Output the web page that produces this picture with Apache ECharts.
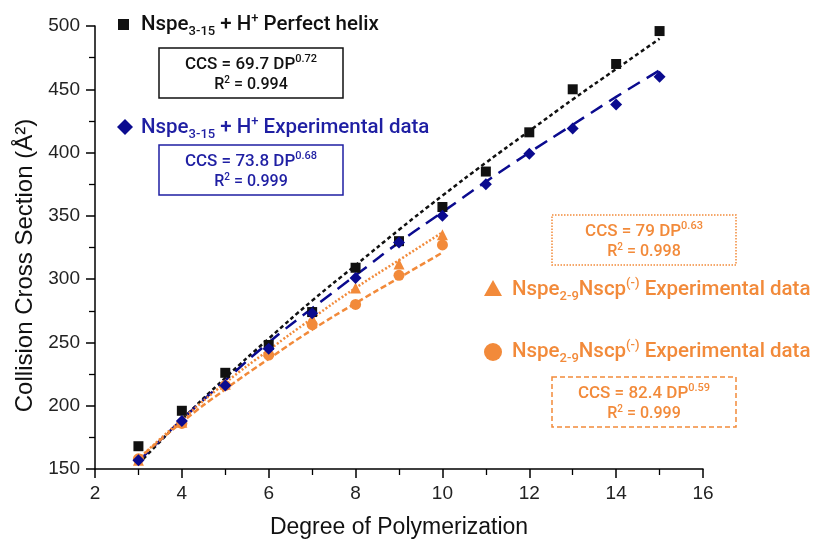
<!DOCTYPE html>
<html>
<head>
<meta charset="utf-8">
<script src="https://cdn.jsdelivr.net/npm/echarts@6/dist/echarts.min.js"></script>
<style>
html, body { margin: 0; padding: 0; background: #fff; }
#main { width: 816px; height: 542px; }
</style>
</head>
<body>
<div id="main"></div>
<script>
// degree of polymerization
const dpHelix = [3, 4, 5, 6, 7, 8, 9, 10, 11, 12, 13, 14, 15];
const dpNscp = [3, 4, 5, 6, 7, 8, 9, 10];
// measured / modelled CCS values
const ccsHelix = [168, 196, 226, 248, 274, 309, 330, 357, 385, 416, 450, 470, 496];
const ccsExp = [157, 188, 216, 245, 273, 301, 329, 350, 375, 399, 419, 438, 460];
const ccsTri = [157, 187, 217, 243, 269, 293, 312, 335];
const ccsCirc = [158, 186, 216, 240, 264, 280, 303, 327];
// fit curves
const fitHelix = [154, 189, 222, 253, 283, 311, 339, 366, 392, 417, 442, 466, 490];
const fitExp = [156, 189, 220, 250, 277, 303, 329, 353, 377, 400, 422, 444, 465];
const fitTri = [158, 189, 218, 244, 269, 293, 315, 337];
const fitCirc = [158, 187, 213, 237, 260, 281, 301, 321];

const BLACK = '#111111';
const BLUE = '#1f1fa3';
const NAVY = '#0b0b8f';
const ORANGE = '#f28a3a';
const TXTFONT = 'Roboto';

function pairs(xs, ys) {
    return xs.map((x, i) => [x, ys[i]]);
}

function legendText(x, y, color, main, sub, sup, tail) {
    return {
        type: 'text', x: x, y: y,
        style: {
            text: '{a|' + main + '}{s|' + sub + '}{a|' + sup[0] + '}{p|' + sup[1] + '}{a|' + tail + '}',
            align: 'left', verticalAlign: 'middle',
            rich: {
                a: { fontFamily: TXTFONT, fontWeight: 500, fontSize: 20.5, lineHeight: 26, fill: color },
                s: { fontFamily: TXTFONT, fontWeight: 500, fontSize: 13, lineHeight: 13, verticalAlign: 'bottom', fill: color },
                p: { fontFamily: TXTFONT, fontWeight: 500, fontSize: 13, lineHeight: 14, verticalAlign: 'top', fill: color }
            }
        }
    };
}

function eqBox(x, y, w, h, color, dash, coef, pow, r2) {
    return [
        {
            type: 'rect',
            shape: { x: x, y: y, width: w, height: h },
            style: { fill: 'none', stroke: color, lineWidth: 1.5, lineDash: dash }
        },
        {
            type: 'text', x: x + w / 2, y: y + 17,
            style: {
                text: '{a|CCS = ' + coef + ' DP}{p|' + pow + '}',
                align: 'center', verticalAlign: 'middle',
                rich: {
                    a: { fontFamily: TXTFONT, fontWeight: 500, fontSize: 17, lineHeight: 22, fill: color },
                    p: { fontFamily: TXTFONT, fontWeight: 500, fontSize: 11, lineHeight: 12, verticalAlign: 'top', fill: color }
                }
            }
        },
        {
            type: 'text', x: x + w / 2, y: y + 37,
            style: {
                text: '{a|R}{p|2}{a| = ' + r2 + '}',
                align: 'center', verticalAlign: 'middle',
                rich: {
                    a: { fontFamily: TXTFONT, fontWeight: 500, fontSize: 16, lineHeight: 20, fill: color },
                    p: { fontFamily: TXTFONT, fontWeight: 500, fontSize: 10, lineHeight: 11, verticalAlign: 'top', fill: color }
                }
            }
        }
    ];
}

const graphics = [
    { type: 'rect', shape: { x: 118, y: 19, width: 11, height: 11 }, style: { fill: BLACK } },
    legendText(141, 25, BLACK, 'Nspe', '3-15', [' + H', '+'], ' Perfect helix'),
    { type: 'polygon', shape: { points: [[125, 119], [133, 127], [125, 135], [117, 127]] }, style: { fill: NAVY } },
    legendText(141, 128, BLUE, 'Nspe', '3-15', [' + H', '+'], ' Experimental data'),
    { type: 'polygon', shape: { points: [[493, 280], [502, 296], [484, 296]] }, style: { fill: ORANGE } },
    legendText(512, 290, ORANGE, 'Nspe', '2-9', ['Nscp', '(-)'], ' Experimental data'),
    { type: 'circle', shape: { cx: 493, cy: 352, r: 9 }, style: { fill: ORANGE } },
    legendText(512, 352, ORANGE, 'Nspe', '2-9', ['Nscp', '(-)'], ' Experimental data')
].concat(
    eqBox(159, 48, 184, 50, BLACK, null, '69.7', '0.72', '0.994'),
    eqBox(159, 145, 184, 50, BLUE, null, '73.8', '0.68', '0.999'),
    eqBox(552, 215, 184, 50, ORANGE, [1.5, 1.5], '79', '0.63', '0.998'),
    eqBox(552, 377, 184, 50, ORANGE, [5, 3], '82.4', '0.59', '0.999')
);

const axisCommon = {
    axisLine: { lineStyle: { color: '#000', width: 1.5 } },
    axisTick: { show: true, inside: false, length: 9, lineStyle: { color: '#000', width: 1.5 } },
    minorTick: { show: true, splitNumber: 2, length: 6, lineStyle: { color: '#000', width: 1.3 } },
    axisLabel: { color: '#222', fontFamily: 'Liberation Sans', fontSize: 19 },
    splitLine: { show: false }
};

const option = {
    animation: false,
    backgroundColor: '#fff',
    grid: { left: 95, right: 113, top: 26, bottom: 73, outerBoundsMode: 'none' },
    xAxis: Object.assign({}, axisCommon, {
        type: 'value', min: 2, max: 16, interval: 2,
        name: 'Degree of Polymerization', nameLocation: 'middle', nameGap: 47,
        nameTextStyle: { color: '#111', fontFamily: 'Liberation Sans', fontSize: 23 },
        axisLabel: Object.assign({}, axisCommon.axisLabel, { margin: 15 })
    }),
    yAxis: Object.assign({}, axisCommon, {
        type: 'value', min: 150, max: 500, interval: 50,
        name: 'Collision Cross Section (Å²)', nameLocation: 'middle', nameGap: 58,
        nameTextStyle: { color: '#111', fontFamily: 'Liberation Sans', fontSize: 24, padding: [0, 36, 0, 0] },
        axisLabel: Object.assign({}, axisCommon.axisLabel, { margin: 15 })
    }),
    series: [
        {
            type: 'line', data: pairs(dpHelix, fitHelix), showSymbol: false, smooth: true, z: 2,
            lineStyle: { color: BLACK, width: 2.5, type: [4, 3] }
        },
        {
            type: 'line', data: pairs(dpHelix, fitExp), showSymbol: false, smooth: true, z: 2,
            lineStyle: { color: NAVY, width: 2.5, type: [14, 8] }
        },
        {
            type: 'line', data: pairs(dpNscp, fitTri), showSymbol: false, smooth: true, z: 2,
            lineStyle: { color: ORANGE, width: 2.5, type: [2, 2] }
        },
        {
            type: 'line', data: pairs(dpNscp, fitCirc), showSymbol: false, smooth: true, z: 2,
            lineStyle: { color: ORANGE, width: 2.5, type: [6, 3] }
        },
        {
            name: 'helix', type: 'scatter', data: pairs(dpHelix, ccsHelix), z: 3,
            symbol: 'rect', symbolSize: 10, itemStyle: { color: BLACK, opacity: 1 }
        },
        {
            name: 'circ', type: 'scatter', data: pairs(dpNscp, ccsCirc), z: 3,
            symbol: 'circle', symbolSize: 11, itemStyle: { color: ORANGE, opacity: 1 }
        },
        {
            name: 'tri', type: 'scatter', data: pairs(dpNscp, ccsTri), z: 3,
            symbol: 'triangle', symbolSize: 11, itemStyle: { color: ORANGE, opacity: 1 }
        },
        {
            name: 'exp', type: 'scatter', data: pairs(dpHelix, ccsExp), z: 3,
            symbol: 'diamond', symbolSize: 12, itemStyle: { color: NAVY, opacity: 1 }
        }
    ],
    graphic: graphics
};

const chart = echarts.init(document.getElementById('main'));
chart.setOption(option);
</script>
</body>
</html>
